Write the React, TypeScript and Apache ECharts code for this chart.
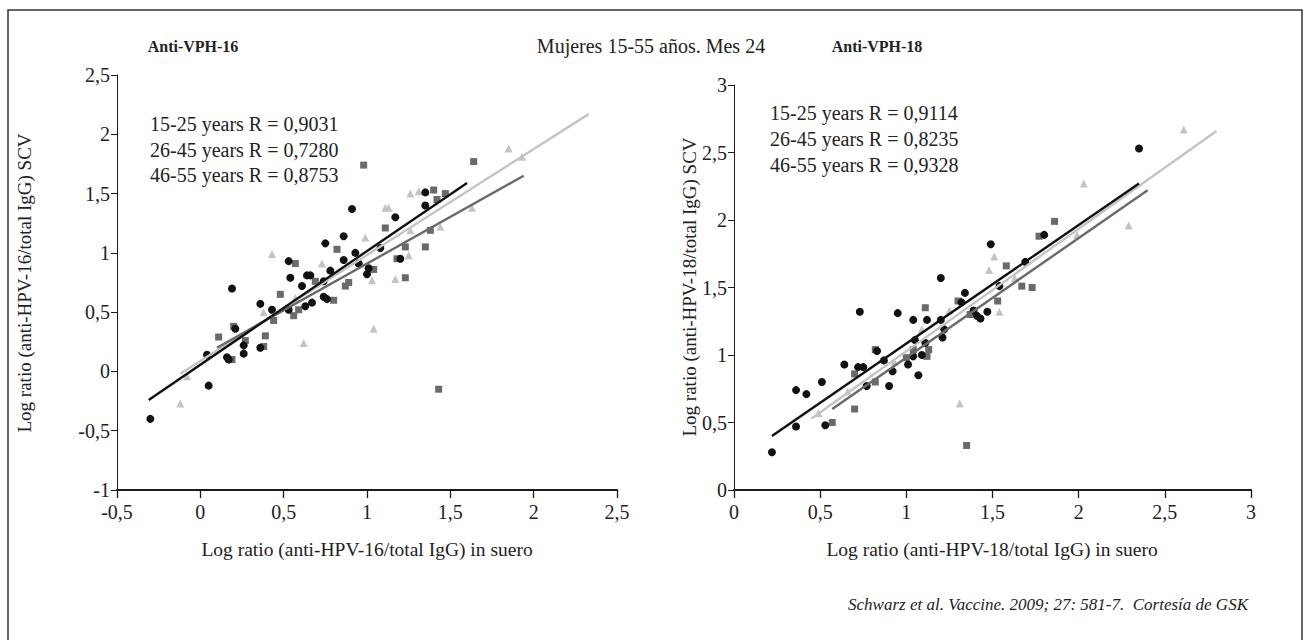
import React, { useEffect, useRef } from "react";
import * as echarts from "echarts";

// ---------- DATA ----------
const xTicks16 = { min: -0.5, max: 2.5, interval: 0.5 };
const yTicks16 = { min: -1, max: 2.5, interval: 0.5 };
const xTicks18 = { min: 0, max: 3, interval: 0.5 };
const yTicks18 = { min: 0, max: 3, interval: 0.5 };

const groupNames = ["15-25 years", "26-45 years", "46-55 years"];
const rValues16 = ["0,9031", "0,7280", "0,8753"];
const rValues18 = ["0,9114", "0,8235", "0,9328"];

const hpv16_1525 = [
  [-0.3, -0.4], [0.05, -0.12], [0.04, 0.14], [0.16, 0.12], [0.17, 0.1], [0.19, 0.7], [0.21, 0.36],
  [0.26, 0.22], [0.26, 0.15], [0.36, 0.57], [0.36, 0.2], [0.43, 0.52], [0.53, 0.93], [0.54, 0.79],
  [0.61, 0.72], [0.64, 0.81], [0.66, 0.81], [0.63, 0.55], [0.67, 0.58], [0.75, 1.08], [0.74, 0.63],
  [0.76, 0.61], [0.78, 0.85], [0.86, 1.14], [0.86, 0.94], [0.91, 1.37], [0.93, 1.0], [0.95, 0.91],
  [1.0, 0.82], [1.01, 0.87], [1.08, 1.04], [1.17, 1.3], [1.2, 0.95], [1.35, 1.51], [1.35, 1.4],
  [0.53, 0.52], [0.74, 0.76],
];
const hpv16_2645 = [
  [0.98, 1.74], [1.64, 1.77], [1.4, 1.53], [1.47, 1.5], [1.42, 1.45], [1.11, 1.21], [1.38, 1.19],
  [1.35, 1.05], [1.23, 1.05], [1.18, 0.95], [1.23, 0.79], [0.82, 1.03], [0.57, 0.91], [0.48, 0.65],
  [0.69, 0.76], [0.89, 0.75], [0.87, 0.72], [0.8, 0.6], [1.04, 0.86], [0.44, 0.43], [0.56, 0.47],
  [0.59, 0.52], [0.39, 0.3], [0.38, 0.21], [0.27, 0.26], [0.2, 0.38], [0.11, 0.29], [0.19, 0.1],
  [1.43, -0.15],
];
const hpv16_4655 = [
  [-0.12, -0.27], [-0.08, -0.04], [0.43, 0.99], [0.62, 0.24], [0.73, 0.91], [0.99, 1.13], [1.04, 0.36],
  [1.03, 0.77], [1.11, 1.38], [1.13, 1.38], [1.17, 0.78], [1.25, 0.98], [1.26, 1.5], [1.31, 1.52],
  [1.44, 1.22], [1.63, 1.38], [1.85, 1.88], [1.93, 1.81], [0.38, 0.5], [0.57, 0.62], [1.26, 1.19],
];
const fit16_1525 = [[-0.31, -0.24], [1.6, 1.59]];
const fit16_2645 = [[0.1, 0.2], [1.94, 1.65]];
const fit16_4655 = [[-0.12, -0.02], [2.33, 2.17]];

const hpv18_1525 = [
  [0.22, 0.28], [0.36, 0.47], [0.36, 0.74], [0.42, 0.71], [0.51, 0.8], [0.53, 0.48], [0.64, 0.93],
  [0.72, 0.91], [0.73, 1.32], [0.75, 0.91], [0.77, 0.77], [0.9, 0.77], [0.92, 0.88], [0.95, 1.31],
  [1.01, 0.93], [1.04, 0.99], [1.04, 1.26], [1.05, 1.11], [1.07, 0.85], [1.09, 1.0], [1.12, 1.26],
  [1.11, 1.09], [1.2, 1.57], [1.2, 1.26], [1.21, 1.13], [1.22, 1.19], [1.34, 1.46], [1.32, 1.39],
  [1.39, 1.33], [1.41, 1.29], [1.43, 1.27], [1.47, 1.32], [1.49, 1.82], [1.54, 1.51], [1.69, 1.69],
  [1.8, 1.89], [2.35, 2.53], [0.83, 1.03], [0.87, 0.96],
];
const hpv18_2645 = [
  [0.57, 0.5], [0.7, 0.6], [0.7, 0.86], [0.82, 0.8], [0.82, 1.04], [1.11, 1.35], [1.04, 1.04],
  [1.13, 1.04], [1.12, 0.99], [1.3, 1.4], [1.37, 1.3], [1.35, 0.33], [1.58, 1.66], [1.67, 1.51],
  [1.73, 1.5], [1.77, 1.88], [1.86, 1.99], [1.53, 1.4], [1.0, 0.98],
];
const hpv18_4655 = [
  [0.49, 0.57], [0.66, 0.73], [0.93, 0.95], [1.09, 1.19], [1.31, 0.64], [1.48, 1.63], [1.51, 1.73],
  [1.54, 1.32], [2.03, 2.27], [2.29, 1.96], [2.61, 2.67], [1.63, 1.57], [1.99, 1.89], [1.25, 1.33],
];
const fit18_1525 = [[0.22, 0.4], [2.35, 2.27]];
const fit18_2645 = [[0.57, 0.6], [2.4, 2.22]];
const fit18_4655 = [[0.45, 0.53], [2.8, 2.66]];

// ---------- STYLE ----------
const FONT = "'Liberation Serif', 'Times New Roman', serif";
const C_BLACK = "#111111";
const C_DARK = "#6a6a6a";
const C_LIGHT = "#c4c4c4";

const fmt = (v: number) => String(v).replace(".", ",");

function axisX(gridIndex: number, t: { min: number; max: number; interval: number }) {
  return {
    gridIndex,
    type: "value",
    min: t.min,
    max: t.max,
    interval: t.interval,
    axisLine: { show: true, onZero: false, lineStyle: { color: "#1a1a1a", width: 2 } },
    axisTick: { show: true, length: 8, lineStyle: { color: "#1a1a1a", width: 1.3 } },
    splitLine: { show: false },
    axisLabel: { formatter: fmt, color: "#222", fontFamily: FONT, fontSize: 20, margin: 12 },
  };
}
function axisY(gridIndex: number, t: { min: number; max: number; interval: number }) {
  return {
    gridIndex,
    type: "value",
    min: t.min,
    max: t.max,
    interval: t.interval,
    axisLine: { show: true, onZero: false, lineStyle: { color: "#1a1a1a", width: 1 } },
    axisTick: { show: true, length: 6, lineStyle: { color: "#1a1a1a", width: 1 } },
    splitLine: { show: false },
    axisLabel: { formatter: fmt, color: "#222", fontFamily: FONT, fontSize: 20, margin: 7 },
  };
}

function scatter(idx: number, data: number[][], symbol: string, color: string, size: number) {
  return {
    type: "scatter",
    xAxisIndex: idx,
    yAxisIndex: idx,
    data,
    symbol,
    symbolSize: size,
    itemStyle: { color, opacity: 1 },
    z: 2,
  };
}
function fit(idx: number, data: number[][], color: string) {
  return {
    type: "line",
    xAxisIndex: idx,
    yAxisIndex: idx,
    data,
    symbol: "none",
    lineStyle: { color, width: 2.4 },
    z: 3,
  };
}

function txt(x: number, y: number, text: string, size: number, extra: any = {}) {
  return {
    type: "text",
    x,
    y,
    style: {
      text,
      fontFamily: FONT,
      fontSize: size,
      fontWeight: extra.weight || "normal",
      fontStyle: extra.italic ? "italic" : "normal",
      fill: "#222",
      align: extra.align || "left",
      verticalAlign: "middle",
    },
    rotation: extra.rotation || 0,
  };
}

export default function App() {
  const ref = useRef<HTMLDivElement>(null);
  useEffect(() => {
    if (!ref.current) return;
    const chart = echarts.init(ref.current, undefined, { renderer: "svg" });
    const legend16 = groupNames.map((g, i) => txt(150, 124 + i * 25.5, `${g} R = ${rValues16[i]}`, 20));
    const legend18 = groupNames.map((g, i) => txt(770, 113 + i * 26, `${g} R = ${rValues18[i]}`, 20));
    chart.setOption({
      animation: false,
      backgroundColor: "#ffffff",
      grid: [
        { left: 117, top: 75, width: 500, height: 415, outerBoundsMode: "none" },
        { left: 734, top: 85, width: 517, height: 405, outerBoundsMode: "none" },
      ],
      xAxis: [axisX(0, xTicks16), axisX(1, xTicks18)],
      yAxis: [axisY(0, yTicks16), axisY(1, yTicks18)],
      series: [
        scatter(0, hpv16_4655, "triangle", C_LIGHT, 8),
        scatter(0, hpv16_2645, "rect", C_DARK, 7),
        scatter(0, hpv16_1525, "circle", C_BLACK, 8),
        fit(0, fit16_4655, C_LIGHT),
        fit(0, fit16_2645, C_DARK),
        fit(0, fit16_1525, C_BLACK),
        scatter(1, hpv18_4655, "triangle", C_LIGHT, 8),
        scatter(1, hpv18_2645, "rect", C_DARK, 7),
        scatter(1, hpv18_1525, "circle", C_BLACK, 8),
        fit(1, fit18_4655, C_LIGHT),
        fit(1, fit18_2645, C_DARK),
        fit(1, fit18_1525, C_BLACK),
      ],
      graphic: [
        {
          type: "rect",
          shape: { x: 8, y: 10, width: 1294, height: 660 },
          style: { fill: "none", stroke: "#333", lineWidth: 1.5 },
          silent: true,
          z: -1,
        },
        txt(193, 46, "Anti-VPH-16", 16, { weight: "bold", align: "center" }),
        txt(651, 46, "Mujeres 15-55 años. Mes 24", 20, { align: "center" }),
        txt(877, 46, "Anti-VPH-18", 16, { weight: "bold", align: "center" }),
        ...legend16,
        ...legend18,
        txt(24, 283, "Log ratio (anti-HPV-16/total IgG) SCV", 19, { align: "center", rotation: Math.PI / 2 }),
        txt(689, 287, "Log ratio (anti-HPV-18/total IgG) SCV", 19, { align: "center", rotation: Math.PI / 2 }),
        txt(367, 549, "Log ratio (anti-HPV-16/total IgG) in suero", 19.5, { align: "center" }),
        txt(992, 549, "Log ratio (anti-HPV-18/total IgG) in suero", 19.5, { align: "center" }),
        txt(1248, 604, "Schwarz et al. Vaccine. 2009; 27: 581-7.  Cortesía de GSK", 17, { align: "right", italic: true }),
      ],
    });
    return () => chart.dispose();
  }, []);
  return (
    <div
      ref={ref}
      style={{ position: "absolute", left: 0, top: 0, width: 1310, height: 640, background: "#fff" }}
    />
  );
}
